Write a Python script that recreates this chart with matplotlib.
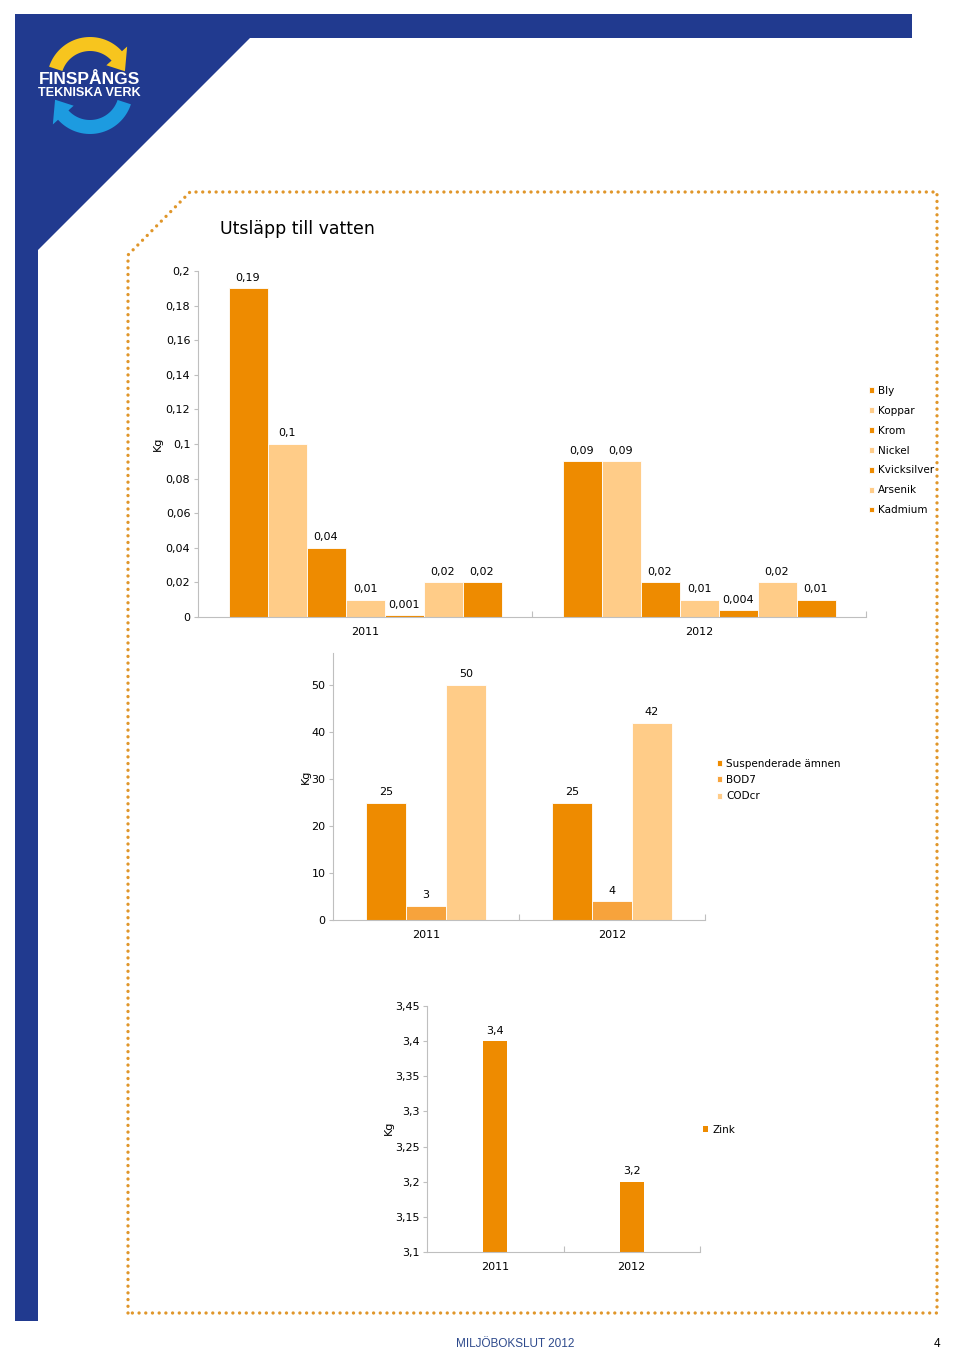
import numpy as np
import matplotlib
matplotlib.use('Agg')
import matplotlib.pyplot as plt
from matplotlib.patches import Polygon
from matplotlib.ticker import FuncFormatter, FixedLocator

W, H = 960, 1369

years = ['2011', '2012']

metals = ['Bly', 'Koppar', 'Krom', 'Nickel', 'Kvicksilver', 'Arsenik', 'Kadmium']
metal_2011 = [0.19, 0.1, 0.04, 0.01, 0.001, 0.02, 0.02]
metal_2012 = [0.09, 0.09, 0.02, 0.01, 0.004, 0.02, 0.01]
metal_ticks = [0, 0.02, 0.04, 0.06, 0.08, 0.1, 0.12, 0.14, 0.16, 0.18, 0.2]

oxygen = ['Suspenderade ämnen', 'BOD7', 'CODcr']
oxygen_2011 = [25, 3, 50]
oxygen_2012 = [25, 4, 42]
oxygen_ticks = [0, 10, 20, 30, 40, 50]

zink = [3.4, 3.2]
zink_ticks = [3.1, 3.15, 3.2, 3.25, 3.3, 3.35, 3.4, 3.45]

# colours
BLUE = '#213A8F'
DARK = '#EE8B00'
LIGHT = '#FFCC88'
MID = '#F7A33C'
GRID = '#BFBFBF'
DOTS = '#E0962A'


def box(l, t, r, b):
    # pixel box -> figure fraction
    return [l / W, 1 - b / H, (r - l) / W, (b - t) / H]


def comma(v):
    return f'{v:g}'.replace('.', ',')


def style(ax, ymin, ymax, yticks):
    ax.set_facecolor('none')
    ax.set_xlim(-0.5, len(years) - 0.5)
    ax.set_ylim(ymin, ymax)
    for s in ['top', 'right']:
        ax.spines[s].set_visible(False)
    for s in ['left', 'bottom']:
        ax.spines[s].set_color(GRID)
        ax.spines[s].set_linewidth(0.8)
    ax.yaxis.set_major_locator(FixedLocator(yticks))
    ax.yaxis.set_major_formatter(FuncFormatter(lambda v, p: comma(round(v, 4))))
    ax.tick_params(axis='y', length=3, width=0.8, color=GRID, pad=2.5, labelsize=8)
    ax.set_xticks(range(len(years)))
    ax.set_xticklabels(years)
    ax.tick_params(axis='x', length=0, pad=7.5, labelsize=8)
    ax.set_xticks([0.5, 1.5], minor=True)
    ax.tick_params(axis='x', which='minor', direction='in', length=4, width=0.8, color=GRID)


def grouped(ax, groups, colors, width):
    n = len(colors)
    x = np.arange(len(years))
    conts = []
    for i in range(n):
        vals = [g[i] for g in groups]
        off = (i - (n - 1) / 2) * width
        bc = ax.bar(x + off, vals, width, color=colors[i], edgecolor='white', linewidth=0.6)
        conts.append(bc)
        for rect, v in zip(bc, vals):
            ax.annotate(comma(v), (rect.get_x() + rect.get_width() / 2, v),
                        xytext=(0, 4), textcoords='offset points',
                        ha='center', va='bottom', fontsize=8)
    return conts


def arc_arrow(cx, cy, r_in, r_out, a0, a1, tip_a, flip=False):
    # curved arrow in pixel space (y down), angles in degrees, visual
    a = np.radians(np.linspace(a0, a1, 40))
    outer = np.c_[cx + r_out * np.cos(a), cy - r_out * np.sin(a)]
    inner = np.c_[cx + r_in * np.cos(a[::-1]), cy - r_in * np.sin(a[::-1])]
    e = np.radians(a1)
    t = np.radians(tip_a)
    rm = (r_in + r_out) / 2
    head = [[cx + (r_out + 7) * np.cos(e), cy - (r_out + 7) * np.sin(e)],
            [cx + rm * np.cos(t), cy - rm * np.sin(t)],
            [cx + (r_in - 7) * np.cos(e), cy - (r_in - 7) * np.sin(e)]]
    pts = np.vstack([outer, head, inner])
    if flip:
        pts = np.c_[2 * 90 - pts[:, 0], 2 * 85.5 - pts[:, 1]]
    return pts


fig = plt.figure(figsize=(W / 100, H / 100), dpi=100)
fig.patch.set_facecolor('white')

# page background layer
bg = fig.add_axes([0, 0, 1, 1])
bg.set_xlim(0, W)
bg.set_ylim(H, 0)
bg.axis('off')
bg.add_patch(Polygon([[15, 14], [912, 14], [912, 38], [250, 38], [38, 250],
                      [38, 1321], [15, 1321]], closed=True, color=BLUE, lw=0))
bg.add_patch(Polygon(arc_arrow(90, 80, 29, 43, 162, 42, 14), closed=True,
                     color='#F7C51E', lw=0))
bg.add_patch(Polygon(arc_arrow(90, 80, 29, 43, 162, 42, 14, flip=True), closed=True,
                     color='#1D9BE0', lw=0))
bg.text(89.5, 79, 'FINSPÅNGS', color='white', fontsize=12.5, fontweight='bold',
        family='Liberation Sans', ha='center', va='center')
bg.text(89.5, 93, 'TEKNISKA VERK', color='white', fontsize=9.1, fontweight='bold',
        family='Liberation Sans', ha='center', va='center')

# dotted frame
fx = [128, 128, 190, 937, 937, 128]
fy = [1313, 255, 192, 192, 1313, 1313]
bg.plot(fx, fy, color=DOTS, lw=2.4, linestyle=(0, (0.01, 2.0)),
        dash_capstyle='round', solid_capstyle='round')

bg.text(220, 229, 'Utsläpp till vatten', fontsize=12.5, ha='left', va='center')
bg.text(158, 444, 'Kg', rotation=90, fontsize=8, ha='center', va='center')
bg.text(306, 777, 'Kg', rotation=90, fontsize=8, ha='center', va='center')
bg.text(389, 1128, 'Kg', rotation=90, fontsize=8, ha='center', va='center')
bg.text(456, 1344, 'MILJÖBOKSLUT 2012', fontsize=8.5, family='Liberation Sans',
        color='#2E4A8C', ha='left', va='center')
bg.text(940, 1344, '4', fontsize=8.5, family='Liberation Sans', ha='right', va='center')

# chart 1: metals
ax1 = fig.add_axes(box(198, 271, 866, 617))
style(ax1, 0, 0.2, metal_ticks)
c1 = grouped(ax1, [metal_2011, metal_2012],
             [DARK, LIGHT, DARK, LIGHT, DARK, LIGHT, DARK], 39 / 334)
ax1.legend(c1, metals, loc='center left', bbox_to_anchor=(869 / W, 1 - 450.5 / H),
           bbox_transform=fig.transFigure, frameon=False, fontsize=7.5,
           handlelength=0.5, handleheight=0.5, handletextpad=0.4,
           labelspacing=0.95, borderpad=0, borderaxespad=0)

# chart 2: suspended solids, BOD, COD
ax2 = fig.add_axes(box(333, 653, 705, 920))
style(ax2, 0, 50 * 267 / 235, oxygen_ticks)
c2 = grouped(ax2, [oxygen_2011, oxygen_2012], [DARK, MID, LIGHT], 40 / 186)
ax2.legend(c2, oxygen, loc='center left', bbox_to_anchor=(717 / W, 1 - 780 / H),
           bbox_transform=fig.transFigure, frameon=False, fontsize=7.5,
           handlelength=0.5, handleheight=0.5, handletextpad=0.4,
           labelspacing=0.6, borderpad=0, borderaxespad=0)

# chart 3: zink
ax3 = fig.add_axes(box(427, 1006, 700, 1252))
style(ax3, 3.1, 3.45, zink_ticks)
c3 = ax3.bar(range(len(years)), zink, 24 / 136.5, color=DARK, label='Zink')
for rect, v in zip(c3, zink):
    ax3.annotate(comma(v), (rect.get_x() + rect.get_width() / 2, v),
                 xytext=(0, 4), textcoords='offset points',
                 ha='center', va='bottom', fontsize=8)
ax3.legend(loc='center left', bbox_to_anchor=(703 / W, 1 - 1130 / H),
           bbox_transform=fig.transFigure, frameon=False, fontsize=7.5,
           handlelength=0.5, handleheight=0.5, handletextpad=0.4,
           borderpad=0, borderaxespad=0)

fig.savefig('out.png', dpi=100)
